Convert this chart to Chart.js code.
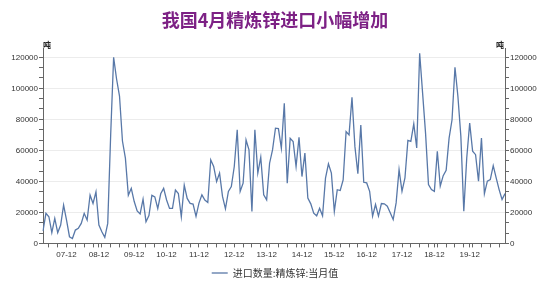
<!DOCTYPE html>
<html>
<head>
<meta charset="utf-8">
<script src="https://cdn.jsdelivr.net/npm/chart.js@4.4.1/dist/chart.umd.min.js"></script>
<style>
  html, body { margin: 0; padding: 0; background: #fff; }
  #wrap { width: 550px; height: 300px; }
</style>
</head>
<body>
<div id="wrap"><canvas id="zincChart" width="550" height="300"></canvas></div>
<script>
        // 进口数量:精炼锌:当月值 (吨)
        const imports = [
            8000, 19400, 17200, 6900, 16100, 6900, 11800, 24700, 15000, 4300,
            3200, 8600, 9700, 12900, 19400, 15000, 31200, 25800, 33300, 11800,
            7500, 3900, 12900, 70000, 120000,
            106000, 95000, 66000, 55000, 31000, 35500, 27000, 21000, 19000, 28500,
            14000, 18000, 31000, 30000, 22500, 32000, 35500, 28000, 22600, 22600,
            34400, 32200, 17200, 37600, 29000, 25800, 25400,
            17400, 26000, 31300, 28000, 26400, 53900, 49600, 39900, 45300, 30300,
            22300, 33500, 36700, 49600, 73200, 33500, 38800, 66700, 60300, 20600,
            73200, 45300, 55600, 31300, 28100, 51700, 60300, 74300, 74000, 61400,
            90300, 38800, 67800, 65700, 49600, 68400, 43100, 58200, 29200, 25500,
            19500, 17800, 22700, 17800, 42100, 51300, 45300, 20600, 34600, 34100,
            40900, 72100, 70000, 94200, 62400, 44900, 76400,
            39400, 39000, 33600, 17600, 25100, 17600, 25700, 25500, 24000, 19700,
            15400, 26100, 47600, 33600, 42200, 66400, 65800, 77100, 61500, 122600,
            96900, 71100, 37900, 34700, 33600, 59400, 36900, 43700, 47100, 67900,
            79700, 113600, 94700, 69000, 20800, 55100, 77600, 59400, 57200, 40100,
            67900, 32100, 40100, 41100, 50100, 42200, 34700, 28300, 32100
        ];

        // x轴标签及其所在的数据序号
        const tickLabels = ['07-12', '08-12', '09-12', '10-12', '11-12', '12-12', '13-12',
                            '14-12', '15-12', '16-12', '17-12', '18-12', '19-12'];
        const tickIndex = [8, 19, 31, 42, 53, 65, 76, 88, 99, 110, 122, 133, 145];

        const yTickValues = [];
        for (let k = 0; k <= 18; k++) yTickValues.push(k * 20000 / 3);

        const categories = imports.map((v, i) => {
            const k = tickIndex.indexOf(i);
            return k >= 0 ? tickLabels[k] : '';
        });

        const lineColor = '#5878a8';
        const axisColor = '#666';
        const isMajor = v => Math.abs(Math.round(v / 20000) * 20000 - v) < 1;

        // 单位"吨"
        const unitPlugin = {
            id: 'unitLabels',
            afterDraw(chart) {
                const { ctx, chartArea } = chart;
                ctx.save();
                ctx.fillStyle = '#222';
                ctx.font = 'bold 8px "Noto Sans CJK SC"';
                ctx.textAlign = 'center';
                ctx.textBaseline = 'middle';
                ctx.fillText('吨', chartArea.left + 4, chartArea.top - 3);
                ctx.fillText('吨', chartArea.right - 5, chartArea.top - 3);
                ctx.restore();
            }
        };

        const yTicks = {
            autoSkip: false,
            color: '#333',
            padding: 1,
            font: { family: '"Liberation Sans"', size: 8 },
            callback: v => isMajor(v) ? String(Math.round(v)) : ''
        };

        const ctx = document.getElementById('zincChart').getContext('2d');
        new Chart(ctx, {
            type: 'line',
            data: {
                labels: categories,
                datasets: [{
                    label: '进口数量:精炼锌:当月值',
                    data: imports,
                    borderColor: lineColor,
                    backgroundColor: lineColor,
                    borderWidth: 1.3,
                    pointRadius: 0,
                    pointStyle: 'line',
                    tension: 0,
                    yAxisID: 'y'
                }]
            },
            plugins: [unitPlugin],
            options: {
                responsive: false,
                animation: false,
                layout: { padding: { left: 0, right: 0, top: 0, bottom: 12 } },
                scales: {
                    x: {
                        offset: false,
                        grid: {
                            drawOnChartArea: false,
                            tickLength: 4,
                            tickColor: c => (c.index % 3 === 2 || categories[c.index]) ? axisColor : 'rgba(0,0,0,0)'
                        },
                        border: { color: axisColor, width: 1 },
                        ticks: {
                            autoSkip: false,
                            maxRotation: 0,
                            minRotation: 0,
                            padding: 3,
                            color: '#333',
                            font: { family: '"Liberation Sans"', size: 8 },
                            callback: (v, i) => categories[i]
                        }
                    },
                    y: {
                        position: 'left',
                        min: 0,
                        max: 126000,
                        afterBuildTicks: axis => { axis.ticks = yTickValues.map(v => ({ value: v })); },
                        afterFit: axis => { axis.width = 43; },
                        grid: {
                            tickLength: 4,
                            color: c => isMajor(c.tick.value) && c.tick.value > 0 ? '#ececec' : 'rgba(0,0,0,0)',
                            tickColor: axisColor
                        },
                        border: { color: axisColor, width: 1 },
                        ticks: yTicks
                    },
                    y2: {
                        position: 'right',
                        min: 0,
                        max: 126000,
                        afterBuildTicks: axis => { axis.ticks = yTickValues.map(v => ({ value: v })); },
                        afterFit: axis => { axis.width = 45; },
                        grid: { drawOnChartArea: false, tickLength: 4, tickColor: axisColor },
                        border: { color: axisColor, width: 1 },
                        ticks: yTicks
                    }
                },
                plugins: {
                    title: {
                        display: true,
                        text: '我国4月精炼锌进口小幅增加',
                        color: '#7d2185',
                        font: { family: '"Noto Sans CJK SC"', size: 18, weight: 'bold' },
                        padding: { top: 9, bottom: 17.4 }
                    },
                    legend: {
                        position: 'bottom',
                        labels: {
                            usePointStyle: true,
                            pointStyleWidth: 16,
                            padding: 5,
                            color: '#333',
                            font: { family: '"Noto Sans CJK SC"', size: 10 }
                        }
                    },
                    tooltip: { enabled: false }
                }
            }
        });
</script>
</body>
</html>
